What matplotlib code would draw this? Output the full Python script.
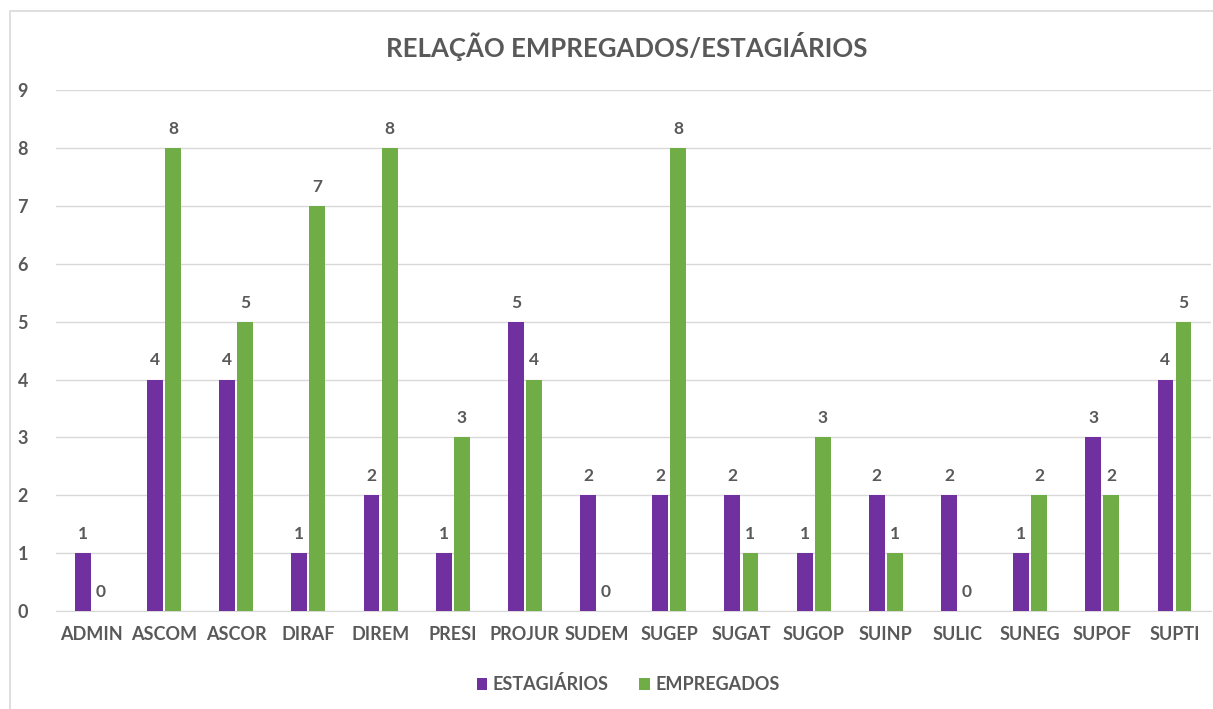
import numpy as np
import matplotlib.pyplot as plt
from matplotlib.patches import Rectangle

setores = ["ADMIN", "ASCOM", "ASCOR", "DIRAF", "DIREM", "PRESI", "PROJUR", "SUDEM",
           "SUGEP", "SUGAT", "SUGOP", "SUINP", "SULIC", "SUNEG", "SUPOF", "SUPTI"]
estagiarios = [1, 4, 4, 1, 2, 1, 5, 2, 2, 2, 1, 2, 2, 1, 3, 4]
empregados = [0, 8, 5, 7, 8, 3, 4, 0, 8, 1, 3, 1, 0, 2, 2, 5]

plt.rcParams["font.family"] = ["Lato", "DejaVu Sans"]
cinza = "#595959"

fig = plt.figure(figsize=(12.13, 7.09), dpi=100)
fig.patches.append(Rectangle((10 / 1213, -0.1), 1.2, 1 - 11 / 709 + 0.1,
                             transform=fig.transFigure, fill=False,
                             edgecolor="#D9D9D9", linewidth=1.2))
ax = fig.add_axes([0.046, 0.138, 0.952, 0.735])

x = np.arange(len(setores))
w = 0.22
b1 = ax.bar(x - w / 2 - 0.015, estagiarios, w, color="#7030A0", label="ESTAGIÁRIOS", zorder=3)
b2 = ax.bar(x + w / 2 + 0.015, empregados, w, color="#70AD47", label="EMPREGADOS", zorder=3)

for bars in (b1, b2):
    ax.bar_label(bars, padding=8, fontsize=12.5, fontweight="bold", color=cinza)

ax.set_xlim(-0.5, len(setores) - 0.5)
ax.set_ylim(0, 9)
ax.set_yticks(range(10))
ax.set_xticks(x)
ax.set_xticklabels(setores)
ax.grid(axis="y", color="#D9D9D9", linewidth=1, zorder=0)
for s in ["top", "right", "left"]:
    ax.spines[s].set_visible(False)
ax.spines["bottom"].set_color("#D9D9D9")
ax.tick_params(length=0, labelsize=13, labelcolor=cinza, pad=11)
ax.tick_params(axis="y", pad=20)
for lab in ax.get_xticklabels() + ax.get_yticklabels():
    lab.set_fontweight("bold")

fig.text(0.517, 0.934, "RELAÇÃO EMPREGADOS/ESTAGIÁRIOS", ha="center", va="center",
         fontsize=18.5, fontweight="bold", color=cinza)

leg = fig.legend(loc="center", bbox_to_anchor=(0.518, 0.035), ncol=2, frameon=False,
                 fontsize=13, handlelength=0.6, handleheight=0.6, handletextpad=0.3,
                 columnspacing=1.7)
for t in leg.get_texts():
    t.set_color(cinza)
    t.set_fontweight("bold")

fig.savefig("out.png", dpi=100, facecolor="white")
